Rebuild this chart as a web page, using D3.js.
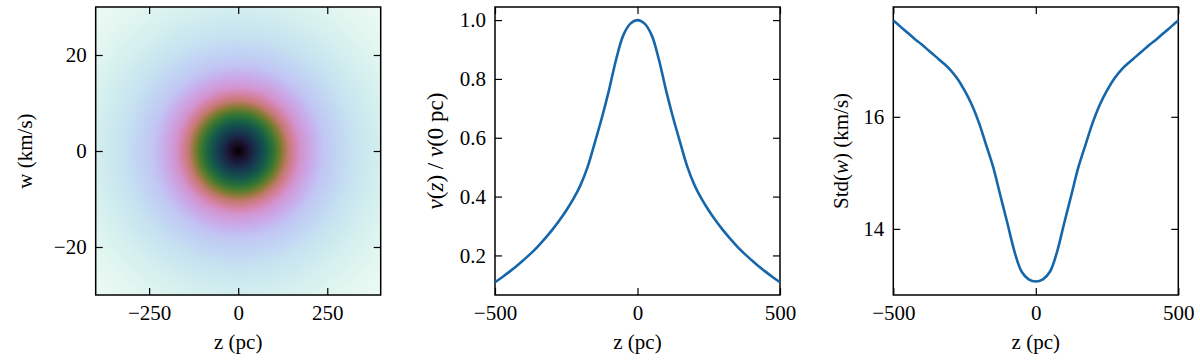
<!DOCTYPE html>
<html>
  <head>
    <title>Vertical distribution</title>
    <script src="https://d3js.org/d3.v7.min.js"></script>
    <style>
      body { margin: 0; background: #fff; }
      svg { display: block; }
      svg text {
        font-family: "Liberation Serif", "Times New Roman", Times, "DejaVu Serif", serif !important;
        font-size: 21px;
        fill: #000;
      }
      .axis line { stroke: #000; stroke-width: 1.2; }
      .axis path { display: none; }
    </style>
  </head>
  <body>
    <svg width="1200" height="364"></svg>
    <script>
      // z grid shared by the two profile panels (pc)
      const zValues = [-500, -475, -450, -425, -400, -375, -350, -325, -300, -275, -250,
        -225, -200, -175, -150, -125, -100, -75, -50, -25, 0,
        25, 50, 75, 100, 125, 150, 175, 200, 225, 250,
        275, 300, 325, 350, 375, 400, 425, 450, 475, 500];

      // nu(z) / nu(0 pc)
      const nuValues = [0.109, 0.126, 0.144, 0.163, 0.184, 0.206, 0.230, 0.257, 0.286, 0.318, 0.353,
        0.392, 0.439, 0.501, 0.583, 0.668, 0.762, 0.866, 0.948, 0.988, 1.000,
        0.988, 0.948, 0.866, 0.762, 0.668, 0.583, 0.501, 0.439, 0.392, 0.353,
        0.318, 0.286, 0.257, 0.230, 0.206, 0.184, 0.163, 0.144, 0.126, 0.109];

      // Std(w) in km/s
      const stdValues = [17.72, 17.61, 17.50, 17.39, 17.29, 17.18, 17.07, 16.96, 16.84, 16.68, 16.47,
        16.22, 15.90, 15.51, 15.11, 14.61, 14.11, 13.60, 13.24, 13.10, 13.06,
        13.10, 13.24, 13.60, 14.11, 14.61, 15.11, 15.51, 15.90, 16.22, 16.47,
        16.68, 16.84, 16.96, 17.07, 17.18, 17.29, 17.39, 17.50, 17.61, 17.72];

      // phase-space density, radial profile (radius in units of the axis half-ranges)
      const ringRadius = [0, 0.03, 0.1, 0.2, 0.25, 0.3, 0.35, 0.44, 0.6, 0.8, 1.0, 1.2, 1.45];
      const ringDensity = [1, 0.95, 0.85, 0.73, 0.65, 0.55, 0.44, 0.32, 0.21, 0.14, 0.095, 0.06, 0.035];

      const heatTicksX = [-250, 0, 250];
      const heatTicksY = [-20, 0, 20];
      const profileTicksX = [-500, 0, 500];
      const nuTicks = [0.2, 0.4, 0.6, 0.8, 1.0];
      const stdTicks = [14, 16];

      const plotTop = 7, plotBottom = 295, panelW = 285;
      const lineColor = "#1666aa";
      const tickLen = 7;

      const svg = d3.select("svg");

      function frame(left, x, y, xTicks, yTicks, yFormat) {
        const g = svg.append("g");
        g.append("g").attr("class", "axis")
          .attr("transform", `translate(0,${plotBottom})`)
          .call(d3.axisBottom(x).tickValues(xTicks).tickSize(-tickLen).tickPadding(10).tickFormat(d3.format("d")));
        g.append("g").attr("class", "axis")
          .attr("transform", `translate(0,${plotTop})`)
          .call(d3.axisTop(x).tickValues(xTicks).tickSize(-tickLen).tickFormat(""));
        g.append("g").attr("class", "axis")
          .attr("transform", `translate(${left},0)`)
          .call(d3.axisLeft(y).tickValues(yTicks).tickSize(-tickLen).tickPadding(9).tickFormat(yFormat));
        g.append("g").attr("class", "axis")
          .attr("transform", `translate(${left + panelW},0)`)
          .call(d3.axisRight(y).tickValues(yTicks).tickSize(-tickLen).tickFormat(""));
        g.selectAll(".axis").attr("font-family", null).attr("font-size", null);
        g.append("rect")
          .attr("x", left).attr("y", plotTop)
          .attr("width", panelW).attr("height", plotBottom - plotTop)
          .attr("fill", "none").attr("stroke", "#000").attr("stroke-width", 1.5);
        g.append("text")
          .attr("x", left + panelW / 2).attr("y", 349)
          .attr("text-anchor", "middle")
          .text("z (pc)");
        return g;
      }

      // ---- panel 1: heatmap ----
      const left1 = 95.7;
      const x1 = d3.scaleLinear().domain([-400, 400]).range([left1, left1 + panelW]);
      const y1 = d3.scaleLinear().domain([-30, 30]).range([plotBottom, plotTop]);
      const density = d3.scaleLinear().domain(ringRadius).range(ringDensity).clamp(true);
      const color = d3.scaleSequential(d3.interpolateCubehelixDefault).domain([1, 0]);

      const cw = Math.round(panelW), ch = plotBottom - plotTop;
      const canvas = document.createElement("canvas");
      canvas.width = cw; canvas.height = ch;
      const ctx = canvas.getContext("2d");
      const img = ctx.createImageData(cw, ch);
      for (let j = 0; j < ch; j++) {
        const w = y1.invert(plotTop + j + 0.5);
        for (let i = 0; i < cw; i++) {
          const z = x1.invert(left1 + i + 0.5);
          const r = Math.hypot(z / 400, w / 30);
          const c = d3.rgb(color(density(r)));
          const k = (j * cw + i) * 4;
          img.data[k] = c.r; img.data[k + 1] = c.g; img.data[k + 2] = c.b; img.data[k + 3] = 255;
        }
      }
      ctx.putImageData(img, 0, 0);
      svg.append("image")
        .attr("x", left1).attr("y", plotTop)
        .attr("width", cw).attr("height", ch)
        .attr("preserveAspectRatio", "none")
        .attr("href", canvas.toDataURL());
      frame(left1, x1, y1, heatTicksX, heatTicksY, d3.format("d"));
      svg.append("text")
        .attr("transform", `translate(32,${(plotTop + plotBottom) / 2}) rotate(-90)`)
        .attr("text-anchor", "middle")
        .text("w (km/s)");

      const smooth = d3.curveCatmullRom.alpha(0.5);

      // ---- panel 2: nu(z) ----
      const left2 = 495;
      const x2 = d3.scaleLinear().domain([-500, 500]).range([left2, left2 + panelW]);
      const y2 = d3.scaleLinear().domain([0.0655, 1.0445]).range([plotBottom, plotTop]);
      frame(left2, x2, y2, profileTicksX, nuTicks, d3.format(".1f"));
      svg.append("path")
        .datum(zValues.map((z, i) => [z, nuValues[i]]))
        .attr("fill", "none").attr("stroke", lineColor).attr("stroke-width", 2.6)
        .attr("d", d3.line().x(d => x2(d[0])).y(d => y2(d[1])).curve(smooth));
      const lab2 = svg.append("text")
        .attr("transform", `translate(443,${(plotTop + plotBottom) / 2}) rotate(-90)`)
        .attr("text-anchor", "middle")
        .style("font-size", "23px");
      lab2.append("tspan").attr("font-style", "italic").text("ν");
      lab2.append("tspan").text("(");
      lab2.append("tspan").attr("font-style", "italic").text("z");
      lab2.append("tspan").text(") / ");
      lab2.append("tspan").attr("font-style", "italic").text("ν");
      lab2.append("tspan").text("(0 pc)");

      // ---- panel 3: Std(w) ----
      const left3 = 893.3;
      const x3 = d3.scaleLinear().domain([-500, 500]).range([left3, left3 + panelW]);
      const y3 = d3.scaleLinear().domain([12.82, 17.96]).range([plotBottom, plotTop]);
      frame(left3, x3, y3, profileTicksX, stdTicks, d3.format("d"));
      svg.append("path")
        .datum(zValues.map((z, i) => [z, stdValues[i]]))
        .attr("fill", "none").attr("stroke", lineColor).attr("stroke-width", 2.6)
        .attr("d", d3.line().x(d => x3(d[0])).y(d => y3(d[1])).curve(smooth));
      const lab3 = svg.append("text")
        .attr("transform", `translate(848,${(plotTop + plotBottom) / 2}) rotate(-90)`)
        .attr("text-anchor", "middle");
      lab3.append("tspan").text("Std(");
      lab3.append("tspan").attr("font-style", "italic").text("w");
      lab3.append("tspan").text(") (km/s)");
    </script>
  </body>
</html>
